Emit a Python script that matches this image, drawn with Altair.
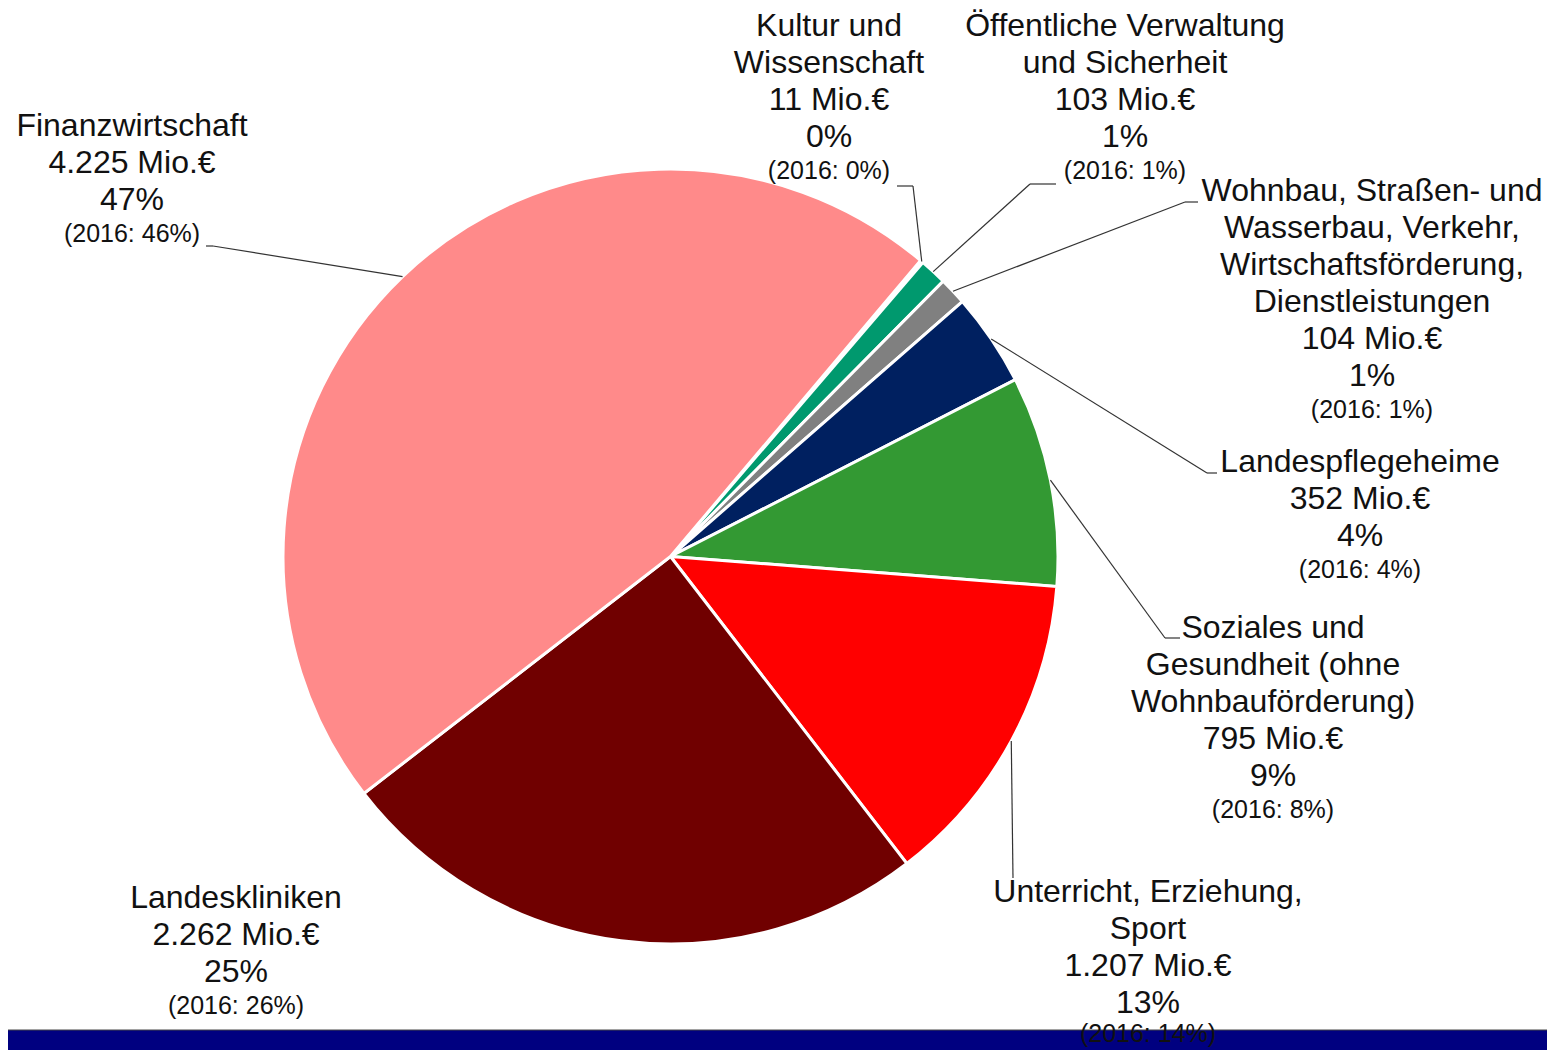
import math
import altair as alt
import pandas as pd

# ---- data ----
categories = [
    "Kultur und Wissenschaft",
    "Öffentliche Verwaltung und Sicherheit",
    "Wohnbau, Straßen- und Wasserbau, Verkehr, Wirtschaftsförderung, Dienstleistungen",
    "Landespflegeheime",
    "Soziales und Gesundheit (ohne Wohnbauförderung)",
    "Unterricht, Erziehung, Sport",
    "Landeskliniken",
    "Finanzwirtschaft",
]
label_lines = [
    ["Kultur und", "Wissenschaft"],
    ["Öffentliche Verwaltung", "und Sicherheit"],
    ["Wohnbau, Straßen- und", "Wasserbau, Verkehr,", "Wirtschaftsförderung,", "Dienstleistungen"],
    ["Landespflegeheime"],
    ["Soziales und", "Gesundheit (ohne", "Wohnbauförderung)"],
    ["Unterricht, Erziehung,", "Sport"],
    ["Landeskliniken"],
    ["Finanzwirtschaft"],
]
values_mio = [11, 103, 104, 352, 795, 1207, 2262, 4225]
share_2016 = [0, 1, 1, 4, 8, 14, 26, 46]
colors = ["#FFC000", "#00996E", "#808080", "#002060", "#339933", "#FF0000", "#700000", "#FF8A8A"]

# ---- layout ----
W, H = 1539, 1042
CX, CY, R = 662.5, 548.5, 387.5
START = math.radians(40.2)
BIG, SMALL = 32, 25
LINE_GAP, SMALL_GAP = 37, 34
FONT = "Liberation Sans"

# label anchor (center x, first line y, gap before small line) in chart pixels
label_pos = [
    (821, 18, 34), (1117, 18, 34), (1364, 183, 34), (1352, 454, 34),
    (1265, 620, 34), (1140, 884, 31), (228, 890, 34), (124, 118, 34),
]
# leader elbow / end points (None = no leader line)
leader_pts = [
    [(905, 178), (889, 178)],
    [(1022, 176), (1048, 176)],
    [(1177, 194), (1190, 194)],
    [(1199, 465), (1209, 465)],
    [(1157, 630), (1172, 630)],
    [(1005, 870)],
    None,
    [(205, 238), (198, 238)],
]

total = sum(values_mio)
df = pd.DataFrame({
    "cat": categories,
    "value": values_mio,
    "idx": list(range(len(categories))),
})

pie = alt.Chart(df).mark_arc(outerRadius=R, stroke="white", strokeWidth=3).encode(
    theta=alt.Theta("value:Q", stack=True,
                    scale=alt.Scale(range=[START, START + 2 * math.pi])),
    color=alt.Color("cat:N", scale=alt.Scale(domain=categories, range=colors), legend=None),
    order=alt.Order("idx:Q"),
    x=alt.value(CX),
    y=alt.value(CY),
)

# text lines
rows = []
for i, cat in enumerate(categories):
    x0, y0, sg = label_pos[i]
    pct = round(values_mio[i] / total * 100)
    big_lines = label_lines[i] + [f"{values_mio[i]:,}".replace(",", ".") + " Mio.€", f"{pct}%"]
    y = y0
    for j, ln in enumerate(big_lines):
        rows.append({"tx": x0, "ty": y, "line": ln, "fs": BIG})
        if j < len(big_lines) - 1:
            y += LINE_GAP
    y += sg
    rows.append({"tx": x0, "ty": y, "line": f"(2016: {share_2016[i]}%)", "fs": SMALL})
tdf = pd.DataFrame(rows)

texts = alt.Chart(tdf).mark_text(font=FONT, align="center", baseline="middle", color="#111111").encode(
    x=alt.X("tx:Q", scale=None, axis=None),
    y=alt.Y("ty:Q", scale=None, axis=None),
    text="line:N",
    size=alt.Size("fs:Q", scale=None, legend=None),
)

# leader lines start at slice edge at mid angle
segs = []
cum = 0
for i, v in enumerate(values_mio):
    mid = START + (cum + v / 2) / total * 2 * math.pi
    cum += v
    if leader_pts[i] is None:
        continue
    pts = [(CX + R * math.sin(mid), CY - R * math.cos(mid))] + leader_pts[i]
    for a, b in zip(pts[:-1], pts[1:]):
        segs.append({"x1": a[0], "y1": a[1], "x2": b[0], "y2": b[1]})
sdf = pd.DataFrame(segs)

leaders = alt.Chart(sdf).mark_rule(color="#333333", strokeWidth=1.2).encode(
    x=alt.X("x1:Q", scale=None, axis=None),
    y=alt.Y("y1:Q", scale=None, axis=None),
    x2="x2:Q",
    y2="y2:Q",
)

bar = alt.Chart(pd.DataFrame({"a": [0]})).mark_rect(color="#000080", stroke="#444444", strokeWidth=1).encode(
    x=alt.value(-2), x2=alt.value(W + 2), y=alt.value(1022), y2=alt.value(H + 5),
)

chart = alt.layer(bar, pie, leaders, texts).properties(
    width=W, height=H, padding=0, autosize=alt.AutoSizeParams(type="none"),
).configure_view(stroke=None)

chart.save("out.html", embed_options={"renderer": "svg", "actions": False})
